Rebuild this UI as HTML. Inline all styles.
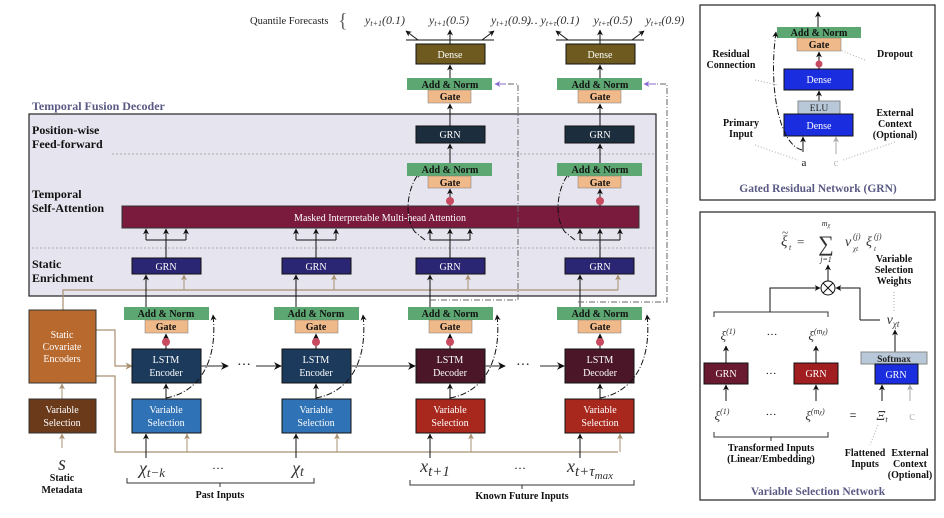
<!DOCTYPE html>
<html><head><meta charset="utf-8"><style>
html,body{margin:0;padding:0;background:#fff}
svg{display:block}
text{font-family:"Liberation Serif","DejaVu Serif",serif}
.w{fill:#fff;font-size:10px;text-anchor:middle}
.b{fill:#111;font-size:10px;text-anchor:middle;font-weight:bold}
.m{font-style:italic;fill:#333;text-anchor:middle}
.s{font-style:italic;fill:#333}
</style></head><body>
<svg width="944" height="518" viewBox="0 0 944 518" xmlns="http://www.w3.org/2000/svg">
<defs>
<marker id="a" viewBox="0 0 10 10" refX="9" refY="5" markerWidth="6" markerHeight="6" orient="auto-start-reverse"><path d="M0,0L10,5L0,10L3,5z" fill="#111"/></marker>
<marker id="t" viewBox="0 0 10 10" refX="9" refY="5" markerWidth="6" markerHeight="6" orient="auto"><path d="M0,0L10,5L0,10L3,5z" fill="#a89070"/></marker>
<marker id="g" viewBox="0 0 10 10" refX="9" refY="5" markerWidth="6" markerHeight="6" orient="auto"><path d="M0,0L10,5L0,10L3,5z" fill="#aaa"/></marker>
<marker id="p" viewBox="0 0 10 10" refX="9" refY="5" markerWidth="6" markerHeight="6" orient="auto"><path d="M0,0L10,5L0,10L3,5z" fill="#8a6ad0"/></marker>
</defs>

<text x="32" y="110" font-size="12" font-weight="bold" fill="#5a5a85">Temporal Fusion Decoder</text>
<rect x="29" y="114" width="627" height="182" fill="#e6e4ef" stroke="#222" stroke-width="1.2"/>
<text x="32" y="134" font-size="12" font-weight="bold" fill="#111">Position-wise</text>
<text x="32" y="148" font-size="12" font-weight="bold" fill="#111">Feed-forward</text>
<text x="32" y="198" font-size="12" font-weight="bold" fill="#111">Temporal</text>
<text x="32" y="212" font-size="12" font-weight="bold" fill="#111">Self-Attention</text>
<text x="32" y="268" font-size="12" font-weight="bold" fill="#111">Static</text>
<text x="32" y="282" font-size="12" font-weight="bold" fill="#111">Enrichment</text>
<line x1="112" y1="154" x2="656" y2="154" stroke="#aaa" stroke-dasharray="2,2"/>
<line x1="32" y1="248" x2="656" y2="248" stroke="#aaa" stroke-dasharray="2,2"/>

<rect x="122" y="206" width="517" height="22" fill="#7a1a3c" stroke="#333"/>
<text x="380" y="221" class="w" font-size="11">Masked Interpretable Multi-head Attention</text>

<path d="M63,310 L63,290 L618,290" fill="none" stroke="#a89070" stroke-width="1.2"/>
<path d="M96,330 L115,330 L115,366 L132,366" fill="none" stroke="#a89070" stroke-width="1.2" marker-end="url(#t)"/>
<path d="M96,376 L115,376 L115,452 L618,452" fill="none" stroke="#a89070" stroke-width="1.2"/>

<!-- Column 1 -->
<g>
<rect x="132" y="258" width="69" height="16" fill="#2b2673" stroke="#111"/><text x="166" y="270" class="w">GRN</text>
<line x1="146" y1="307" x2="146" y2="275" stroke="#111" marker-end="url(#a)"/>
<line x1="184" y1="290" x2="184" y2="275" stroke="#a89070" marker-end="url(#t)"/>
<line x1="166" y1="258" x2="166" y2="240" stroke="#111"/>
<path d="M146,240 L186,240" stroke="#111" fill="none"/>
<line x1="146" y1="240" x2="146" y2="229" stroke="#111" marker-end="url(#a)"/>
<line x1="166" y1="240" x2="166" y2="229" stroke="#111" marker-end="url(#a)"/>
<line x1="186" y1="240" x2="186" y2="229" stroke="#111" marker-end="url(#a)"/>
<rect x="124" y="307" width="85" height="13" fill="#5da872"/><text x="166" y="317" class="b" font-size="9.5">Add &amp; Norm</text>
<rect x="145" y="320" width="43" height="13" fill="#f0b98a" stroke="#777" stroke-width=".5"/><text x="166" y="330" class="b" font-size="9.5">Gate</text>
<line x1="166" y1="349" x2="166" y2="334" stroke="#111" marker-end="url(#a)"/><circle cx="166" cy="342" r="4" fill="#c84a60"/>
<rect x="132" y="349" width="69" height="34" fill="#1b3a5c" stroke="#111"/><text x="166" y="363" class="w">LSTM</text><text x="166" y="376" class="w">Encoder</text>
<rect x="132" y="399" width="69" height="34" fill="#2f72b5" stroke="#111"/><text x="166" y="413" class="w">Variable</text><text x="166" y="426" class="w">Selection</text>
<line x1="166" y1="399" x2="166" y2="384" stroke="#111" marker-end="url(#a)"/>
<line x1="146" y1="458" x2="146" y2="434" stroke="#111" marker-end="url(#a)"/>
<line x1="187" y1="452" x2="187" y2="434" stroke="#a89070" marker-end="url(#t)"/>
<path d="M166,398 C200,392 218,360 213,315" fill="none" stroke="#111" stroke-dasharray="6,2,1,2" marker-end="url(#a)"/>
</g>

<!-- Column 2 -->
<g>
<rect x="282" y="258" width="69" height="16" fill="#2b2673" stroke="#111"/><text x="316" y="270" class="w">GRN</text>
<line x1="296" y1="307" x2="296" y2="275" stroke="#111" marker-end="url(#a)"/>
<line x1="334" y1="290" x2="334" y2="275" stroke="#a89070" marker-end="url(#t)"/>
<line x1="316" y1="258" x2="316" y2="240" stroke="#111"/>
<path d="M296,240 L336,240" stroke="#111" fill="none"/>
<line x1="296" y1="240" x2="296" y2="229" stroke="#111" marker-end="url(#a)"/>
<line x1="316" y1="240" x2="316" y2="229" stroke="#111" marker-end="url(#a)"/>
<line x1="336" y1="240" x2="336" y2="229" stroke="#111" marker-end="url(#a)"/>
<rect x="274" y="307" width="85" height="13" fill="#5da872"/><text x="316" y="317" class="b" font-size="9.5">Add &amp; Norm</text>
<rect x="295" y="320" width="43" height="13" fill="#f0b98a" stroke="#777" stroke-width=".5"/><text x="316" y="330" class="b" font-size="9.5">Gate</text>
<line x1="316" y1="349" x2="316" y2="334" stroke="#111" marker-end="url(#a)"/><circle cx="316" cy="342" r="4" fill="#c84a60"/>
<rect x="282" y="349" width="69" height="34" fill="#1b3a5c" stroke="#111"/><text x="316" y="363" class="w">LSTM</text><text x="316" y="376" class="w">Encoder</text>
<rect x="282" y="399" width="69" height="34" fill="#2f72b5" stroke="#111"/><text x="316" y="413" class="w">Variable</text><text x="316" y="426" class="w">Selection</text>
<line x1="316" y1="399" x2="316" y2="384" stroke="#111" marker-end="url(#a)"/>
<line x1="296" y1="458" x2="296" y2="434" stroke="#111" marker-end="url(#a)"/>
<line x1="337" y1="452" x2="337" y2="434" stroke="#a89070" marker-end="url(#t)"/>
<path d="M316,398 C350,392 368,360 363,315" fill="none" stroke="#111" stroke-dasharray="6,2,1,2" marker-end="url(#a)"/>
</g>

<!-- Column 3 -->
<g>
<rect x="416" y="258" width="69" height="16" fill="#2b2673" stroke="#111"/><text x="450" y="270" class="w">GRN</text>
<line x1="430" y1="307" x2="430" y2="275" stroke="#111" marker-end="url(#a)"/>
<line x1="468" y1="290" x2="468" y2="275" stroke="#a89070" marker-end="url(#t)"/>
<line x1="450" y1="258" x2="450" y2="240" stroke="#111"/>
<path d="M430,240 L470,240" stroke="#111" fill="none"/>
<line x1="430" y1="240" x2="430" y2="229" stroke="#111" marker-end="url(#a)"/>
<line x1="450" y1="240" x2="450" y2="229" stroke="#111" marker-end="url(#a)"/>
<line x1="470" y1="240" x2="470" y2="229" stroke="#111" marker-end="url(#a)"/>
<rect x="408" y="307" width="85" height="13" fill="#5da872"/><text x="450" y="317" class="b" font-size="9.5">Add &amp; Norm</text>
<rect x="429" y="320" width="43" height="13" fill="#f0b98a" stroke="#777" stroke-width=".5"/><text x="450" y="330" class="b" font-size="9.5">Gate</text>
<line x1="450" y1="349" x2="450" y2="334" stroke="#111" marker-end="url(#a)"/><circle cx="450" cy="342" r="4" fill="#c84a60"/>
<rect x="416" y="349" width="69" height="34" fill="#4a1628" stroke="#111"/><text x="450" y="363" class="w">LSTM</text><text x="450" y="376" class="w">Decoder</text>
<rect x="416" y="399" width="69" height="34" fill="#a8281e" stroke="#111"/><text x="450" y="413" class="w">Variable</text><text x="450" y="426" class="w">Selection</text>
<line x1="450" y1="399" x2="450" y2="384" stroke="#111" marker-end="url(#a)"/>
<line x1="430" y1="458" x2="430" y2="434" stroke="#111" marker-end="url(#a)"/>
<line x1="471" y1="452" x2="471" y2="434" stroke="#a89070" marker-end="url(#t)"/>
<path d="M450,398 C484,392 502,360 497,315" fill="none" stroke="#111" stroke-dasharray="6,2,1,2" marker-end="url(#a)"/>
<path d="M425,240 L415,232 C405,220 405,190 420,172" fill="none" stroke="#111" stroke-dasharray="6,2,1,2" marker-end="url(#a)"/>
<line x1="450" y1="206" x2="450" y2="189" stroke="#111" marker-end="url(#a)"/><circle cx="450" cy="201" r="4" fill="#c84a60"/>
<rect x="407" y="163" width="85" height="13" fill="#5da872"/><text x="450" y="173" class="b" font-size="9.5">Add &amp; Norm</text>
<rect x="428" y="176" width="43" height="12" fill="#f0b98a" stroke="#777" stroke-width=".5"/><text x="450" y="186" class="b" font-size="9.5">Gate</text>
<line x1="450" y1="163" x2="450" y2="144" stroke="#111" marker-end="url(#a)"/>
<rect x="416" y="126" width="69" height="17" fill="#1c2e3e" stroke="#111"/><text x="450" y="138" class="w">GRN</text>
<line x1="450" y1="126" x2="450" y2="104" stroke="#111" marker-end="url(#a)"/>
<rect x="407" y="78" width="85" height="12" fill="#5da872"/><text x="450" y="88" class="b" font-size="9.5">Add &amp; Norm</text>
<rect x="428" y="90" width="43" height="13" fill="#f0b98a" stroke="#777" stroke-width=".5"/><text x="450" y="100" class="b" font-size="9.5">Gate</text>
<line x1="450" y1="78" x2="450" y2="65" stroke="#111" marker-end="url(#a)"/>
<rect x="416" y="44" width="69" height="20" fill="#6e5a1e" stroke="#111"/><text x="450" y="58" class="w">Dense</text>
<line x1="450" y1="44" x2="450" y2="30" stroke="#111" marker-end="url(#a)"/>
<path d="M406,40 L494,40" stroke="#111"/>
<line x1="418" y1="40" x2="406" y2="31" stroke="#111" marker-end="url(#a)"/>
<line x1="482" y1="40" x2="494" y2="31" stroke="#111" marker-end="url(#a)"/>
<path d="M430,300 L518,300 L518,84 L496,84" fill="none" stroke="#666" stroke-dasharray="6,2,1,2"/>
<line x1="506" y1="84" x2="495" y2="84" stroke="#8a6ad0" marker-end="url(#p)"/>
</g>

<!-- Column 4 -->
<g>
<rect x="565" y="258" width="69" height="16" fill="#2b2673" stroke="#111"/><text x="600" y="270" class="w">GRN</text>
<line x1="580" y1="307" x2="580" y2="275" stroke="#111" marker-end="url(#a)"/>
<line x1="618" y1="290" x2="618" y2="275" stroke="#a89070" marker-end="url(#t)"/>
<line x1="600" y1="258" x2="600" y2="240" stroke="#111"/>
<path d="M580,240 L620,240" stroke="#111" fill="none"/>
<line x1="580" y1="240" x2="580" y2="229" stroke="#111" marker-end="url(#a)"/>
<line x1="600" y1="240" x2="600" y2="229" stroke="#111" marker-end="url(#a)"/>
<line x1="620" y1="240" x2="620" y2="229" stroke="#111" marker-end="url(#a)"/>
<rect x="557" y="307" width="85" height="13" fill="#5da872"/><text x="600" y="317" class="b" font-size="9.5">Add &amp; Norm</text>
<rect x="578" y="320" width="43" height="13" fill="#f0b98a" stroke="#777" stroke-width=".5"/><text x="600" y="330" class="b" font-size="9.5">Gate</text>
<line x1="600" y1="349" x2="600" y2="334" stroke="#111" marker-end="url(#a)"/><circle cx="600" cy="342" r="4" fill="#c84a60"/>
<rect x="565" y="349" width="69" height="34" fill="#4a1628" stroke="#111"/><text x="600" y="363" class="w">LSTM</text><text x="600" y="376" class="w">Decoder</text>
<rect x="565" y="399" width="69" height="34" fill="#a8281e" stroke="#111"/><text x="600" y="413" class="w">Variable</text><text x="600" y="426" class="w">Selection</text>
<line x1="600" y1="399" x2="600" y2="384" stroke="#111" marker-end="url(#a)"/>
<line x1="580" y1="458" x2="580" y2="434" stroke="#111" marker-end="url(#a)"/>
<line x1="620" y1="452" x2="620" y2="434" stroke="#a89070" marker-end="url(#t)"/>
<path d="M600,398 C634,392 652,360 647,315" fill="none" stroke="#111" stroke-dasharray="6,2,1,2" marker-end="url(#a)"/>
<path d="M575,240 L565,232 C555,220 555,190 570,172" fill="none" stroke="#111" stroke-dasharray="6,2,1,2" marker-end="url(#a)"/>
<line x1="600" y1="206" x2="600" y2="189" stroke="#111" marker-end="url(#a)"/><circle cx="600" cy="201" r="4" fill="#c84a60"/>
<rect x="557" y="163" width="85" height="13" fill="#5da872"/><text x="600" y="173" class="b" font-size="9.5">Add &amp; Norm</text>
<rect x="578" y="176" width="43" height="12" fill="#f0b98a" stroke="#777" stroke-width=".5"/><text x="600" y="186" class="b" font-size="9.5">Gate</text>
<line x1="600" y1="163" x2="600" y2="144" stroke="#111" marker-end="url(#a)"/>
<rect x="565" y="126" width="69" height="17" fill="#1c2e3e" stroke="#111"/><text x="600" y="138" class="w">GRN</text>
<line x1="600" y1="126" x2="600" y2="104" stroke="#111" marker-end="url(#a)"/>
<rect x="557" y="78" width="85" height="12" fill="#5da872"/><text x="600" y="88" class="b" font-size="9.5">Add &amp; Norm</text>
<rect x="578" y="90" width="43" height="13" fill="#f0b98a" stroke="#777" stroke-width=".5"/><text x="600" y="100" class="b" font-size="9.5">Gate</text>
<line x1="600" y1="78" x2="600" y2="65" stroke="#111" marker-end="url(#a)"/>
<rect x="566" y="44" width="69" height="20" fill="#6e5a1e" stroke="#111"/><text x="600" y="58" class="w">Dense</text>
<line x1="600" y1="44" x2="600" y2="30" stroke="#111" marker-end="url(#a)"/>
<path d="M556,40 L644,40" stroke="#111"/>
<line x1="568" y1="40" x2="556" y2="31" stroke="#111" marker-end="url(#a)"/>
<line x1="632" y1="40" x2="644" y2="31" stroke="#111" marker-end="url(#a)"/>
<path d="M578,302 L667,302 L667,84 L645,84" fill="none" stroke="#666" stroke-dasharray="6,2,1,2"/>
<line x1="656" y1="84" x2="644" y2="84" stroke="#8a6ad0" marker-end="url(#p)"/>
</g>

<line x1="201" y1="366" x2="228" y2="366" stroke="#555" stroke-width="1.3" marker-end="url(#a)"/>
<text x="244" y="369" font-size="14" fill="#111" text-anchor="middle">···</text>
<line x1="256" y1="366" x2="281" y2="366" stroke="#555" stroke-width="1.3" marker-end="url(#a)"/>
<line x1="351" y1="366" x2="415" y2="366" stroke="#555" stroke-width="1.3" marker-end="url(#a)"/>
<line x1="485" y1="366" x2="505" y2="366" stroke="#555" stroke-width="1.3" marker-end="url(#a)"/>
<text x="523" y="369" font-size="14" fill="#111" text-anchor="middle">···</text>
<line x1="540" y1="366" x2="564" y2="366" stroke="#555" stroke-width="1.3" marker-end="url(#a)"/>

<rect x="29" y="310" width="67" height="73" fill="#b8692e" stroke="#333"/>
<text x="62" y="338" class="w" fill="#fde8c8">Static</text><text x="62" y="350" class="w">Covariate</text><text x="62" y="362" class="w">Encoders</text>
<line x1="62" y1="399" x2="62" y2="384" stroke="#a89070" marker-end="url(#t)"/>
<rect x="29" y="399" width="67" height="34" fill="#6a3a1a" stroke="#333"/>
<text x="62" y="413" class="w">Variable</text><text x="62" y="426" class="w">Selection</text>
<line x1="62" y1="448" x2="62" y2="434" stroke="#a89070" marker-end="url(#t)"/>
<text x="62" y="470" class="m" font-size="20">s</text>
<text x="62" y="481" class="b">Static</text><text x="62" y="493" class="b">Metadata</text>

<text x="152" y="474" class="m" font-size="18">χ<tspan font-size="13" dy="3">t−k</tspan></text>
<text x="218" y="472" font-size="12" text-anchor="middle">···</text>
<text x="298" y="474" class="m" font-size="18">χ<tspan font-size="14" dy="2">t</tspan></text>
<path d="M127,478 L127,483 L314,483 L314,478 M220,483 L220,487" fill="none" stroke="#333"/>
<text x="220" y="498" class="b">Past Inputs</text>
<text x="435" y="472" class="m" font-size="18">x<tspan font-size="15" dy="4">t+1</tspan></text>
<text x="520" y="472" font-size="12" text-anchor="middle">···</text>
<text x="590" y="472" class="m" font-size="18">x<tspan font-size="15" dy="4">t+τ</tspan><tspan font-size="11" dy="3">max</tspan></text>
<path d="M410,480 L410,485 L634,485 L634,480 M522,485 L522,489" fill="none" stroke="#333"/>
<text x="522" y="499" class="b">Known Future Inputs</text>

<!-- Quantile forecasts -->
<text x="250" y="24" font-size="10.5" fill="#222">Quantile Forecasts</text>
<text x="338" y="27" font-size="20" fill="#666">{</text>
<g class="m" font-size="12">
<text x="385" y="24">y<tspan font-size="8" dy="2">t+1</tspan><tspan dy="-2">(0.1)</tspan></text>
<text x="449" y="24">y<tspan font-size="8" dy="2">t+1</tspan><tspan dy="-2">(0.5)</tspan></text>
<text x="511" y="24">y<tspan font-size="8" dy="2">t+1</tspan><tspan dy="-2">(0.9)</tspan></text>
<text x="532" y="24" font-style="normal" fill="#111">…</text>
<text x="560" y="24">y<tspan font-size="8" dy="2">t+τ</tspan><tspan dy="-2">(0.1)</tspan></text>
<text x="613" y="24">y<tspan font-size="8" dy="2">t+τ</tspan><tspan dy="-2">(0.5)</tspan></text>
<text x="665" y="24">y<tspan font-size="8" dy="2">t+τ</tspan><tspan dy="-2">(0.9)</tspan></text>
</g>

<!-- GRN panel -->
<rect x="700" y="5" width="235" height="195" fill="#fff" stroke="#222" stroke-width="1.2"/>
<line x1="818" y1="27" x2="818" y2="12" stroke="#111" marker-end="url(#a)"/>
<rect x="777" y="27" width="84" height="11" fill="#5da872"/><text x="819" y="36" class="b" font-size="9.5">Add &amp; Norm</text>
<rect x="797" y="38" width="44" height="13" fill="#f0b98a" stroke="#777" stroke-width=".5"/><text x="819" y="48" class="b" font-size="9.5">Gate</text>
<line x1="819" y1="69" x2="819" y2="52" stroke="#111" marker-end="url(#a)"/><circle cx="819" cy="64" r="3.5" fill="#c84a60"/>
<rect x="784" y="69" width="69" height="21" fill="#1a2ee0" stroke="#111"/><text x="819" y="83" class="w">Dense</text>
<line x1="819" y1="101" x2="819" y2="91" stroke="#111" marker-end="url(#a)"/>
<rect x="798" y="101" width="42" height="13" fill="#b8c8d8" stroke="#888"/><text x="819" y="111" font-size="9.5" text-anchor="middle" fill="#222">ELU</text>
<rect x="784" y="114" width="69" height="22" fill="#1a2ee0" stroke="#111"/><text x="819" y="129" class="w">Dense</text>
<line x1="803" y1="152" x2="803" y2="137" stroke="#111" marker-end="url(#a)"/>
<line x1="836" y1="154" x2="836" y2="137" stroke="#aaa" marker-end="url(#g)"/>
<path d="M802,150 C780,145 768,90 776,32" fill="none" stroke="#111" stroke-dasharray="6,2,1,2" marker-end="url(#a)"/>
<text x="804" y="166" font-size="11" text-anchor="middle" fill="#111">a</text>
<text x="836" y="166" font-size="11" text-anchor="middle" fill="#bbb">c</text>
<text x="731" y="57" class="b" font-size="9">Residual</text><text x="731" y="68" class="b" font-size="9">Connection</text>
<text x="895" y="57" class="b" font-size="9">Dropout</text>
<text x="741" y="126" class="b" font-size="9">Primary</text><text x="741" y="137" class="b" font-size="9">Input</text>
<text x="895" y="116" class="b" font-size="9">External</text><text x="895" y="127" class="b" font-size="9">Context</text><text x="895" y="138" class="b" font-size="9">(Optional)</text>
<g stroke="#aaa" stroke-dasharray="1,2"><line x1="755" y1="145" x2="798" y2="160"/><line x1="843" y1="160" x2="895" y2="142"/><line x1="755" y1="80" x2="778" y2="85"/><line x1="865" y1="60" x2="840" y2="50"/></g>
<text x="818" y="192" font-size="11.5" font-weight="bold" text-anchor="middle" fill="#5a5a85">Gated Residual Network (GRN)</text>

<!-- VSN panel -->
<rect x="700" y="212" width="235" height="288" fill="#fff" stroke="#222" stroke-width="1.2"/>
<text x="781" y="246" class="s" font-size="15">ξ</text>
<text x="782" y="236" class="s" font-size="11">~</text>
<text x="789" y="250" class="s" font-size="8">t</text>
<text x="797" y="246" font-size="13" fill="#333">=</text>
<text x="826" y="251" font-size="22" text-anchor="middle" fill="#333">∑</text>
<text x="826" y="226" class="m" font-size="8">m<tspan font-size="6" dy="1">χ</tspan></text>
<text x="826" y="262" class="m" font-size="8">j=1</text>
<text x="845" y="246" class="s" font-size="14">v</text>
<text x="853" y="239" class="s" font-size="8">(j)</text>
<text x="853" y="251" class="s" font-size="7">χt</text>
<text x="866" y="246" class="s" font-size="14">ξ</text>
<text x="874" y="239" class="s" font-size="8">(j)</text>
<text x="874" y="251" class="s" font-size="7">t</text>
<line x1="828" y1="281" x2="828" y2="265" stroke="#111" marker-end="url(#a)"/>
<circle cx="828" cy="288" r="7" fill="#fff" stroke="#111"/>
<path d="M823,283 L833,293 M833,283 L823,293" stroke="#111"/>
<path d="M770,312 L770,288 L820,288" fill="none" stroke="#111" marker-end="url(#a)"/>
<path d="M860,320 L880,320 M860,320 L860,288 L836,288" fill="none" stroke="#111" marker-end="url(#a)"/>
<path d="M714,317 L714,312 L828,312 L828,317" fill="none" stroke="#333"/>
<text x="894" y="262" class="b" font-size="9">Variable</text><text x="894" y="273" class="b" font-size="9">Selection</text><text x="894" y="284" class="b" font-size="9">Weights</text>
<line x1="894" y1="292" x2="894" y2="312" stroke="#aaa" stroke-dasharray="1,2"/>
<text x="893" y="324" class="m" font-size="14">v<tspan font-size="9" dy="3">χt</tspan></text>
<text x="728" y="340" class="m" font-size="13">ξ<tspan font-size="8" dy="-6">(1)</tspan></text>
<text x="772" y="338" font-size="11" text-anchor="middle">···</text>
<text x="818" y="340" class="m" font-size="13">ξ<tspan font-size="8" dy="-6">(m</tspan><tspan font-size="6">χ</tspan><tspan font-size="8">)</tspan></text>
<line x1="726" y1="363" x2="726" y2="346" stroke="#111" marker-end="url(#a)"/>
<line x1="816" y1="363" x2="816" y2="346" stroke="#111" marker-end="url(#a)"/>
<line x1="895" y1="352" x2="895" y2="330" stroke="#111" marker-end="url(#a)"/>
<rect x="704" y="363" width="44" height="21" fill="#6a1a30" stroke="#111"/><text x="726" y="377" class="w">GRN</text>
<text x="771" y="377" font-size="11" text-anchor="middle">···</text>
<rect x="794" y="363" width="44" height="21" fill="#a01e20" stroke="#111"/><text x="816" y="377" class="w">GRN</text>
<rect x="861" y="352" width="66" height="12" fill="#b8c8d8" stroke="#888"/><text x="894" y="362" font-size="9.5" text-anchor="middle" font-weight="bold" fill="#222">Softmax</text>
<rect x="875" y="364" width="43" height="20" fill="#1a2ee0" stroke="#111"/><text x="896" y="378" class="w">GRN</text>
<line x1="726" y1="401" x2="726" y2="385" stroke="#111" marker-end="url(#a)"/>
<line x1="816" y1="401" x2="816" y2="385" stroke="#111" marker-end="url(#a)"/>
<line x1="882" y1="401" x2="882" y2="385" stroke="#111" marker-end="url(#a)"/>
<line x1="910" y1="401" x2="910" y2="385" stroke="#aaa" marker-end="url(#g)"/>
<text x="722" y="420" class="m" font-size="13">ξ<tspan font-size="8" dy="-6">(1)</tspan></text>
<text x="771" y="418" font-size="11" text-anchor="middle">···</text>
<text x="815" y="420" class="m" font-size="13">ξ<tspan font-size="8" dy="-6">(m</tspan><tspan font-size="6">χ</tspan><tspan font-size="8">)</tspan></text>
<text x="853" y="419" font-size="12" text-anchor="middle">=</text>
<text x="882" y="420" class="m" font-size="14">Ξ<tspan font-size="8" dy="2">t</tspan></text>
<text x="912" y="420" font-size="13" text-anchor="middle" fill="#bbb">c</text>
<path d="M714,432 L714,437 L828,437 L828,432 M771,437 L771,441" fill="none" stroke="#333"/>
<text x="771" y="451" class="b" font-size="9">Transformed Inputs</text>
<text x="771" y="462" class="b" font-size="9">(Linear/Embedding)</text>
<text x="865" y="456" class="b" font-size="9">Flattened</text><text x="865" y="467" class="b" font-size="9">Inputs</text>
<text x="910" y="456" class="b" font-size="9">External</text><text x="910" y="467" class="b" font-size="9">Context</text><text x="910" y="478" class="b" font-size="9">(Optional)</text>
<line x1="878" y1="425" x2="870" y2="445" stroke="#aaa" stroke-dasharray="1,2"/>
<text x="818" y="495" font-size="11.5" font-weight="bold" text-anchor="middle" fill="#5a5a85">Variable Selection Network</text>
</svg>
</body></html>
